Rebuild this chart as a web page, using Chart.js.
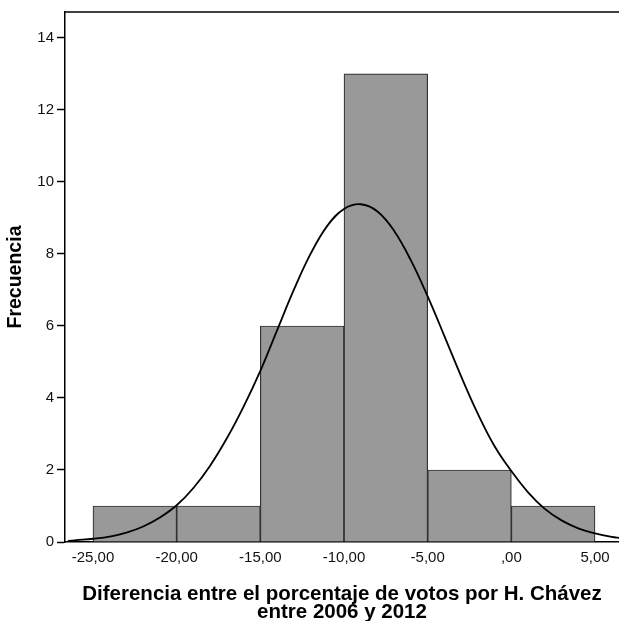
<!DOCTYPE html>
<html lang="es">
  <head>
    <meta charset="UTF-8" />
    <title>Histograma</title>
    <style>
      html, body { margin: 0; padding: 0; background: #fff; }
      canvas { display: block; }
    </style>
  </head>
  <body>
    <canvas id="myChart" width="619" height="621"></canvas>

    <script src="https://cdn.jsdelivr.net/npm/chart.js"></script>
    <script>
      // histogram bins (centre of each 5-wide bin) and counts
      const binCenters = [-22.5, -17.5, -12.5, -7.5, -2.5, 2.5];
      const counts = [1, 1, 6, 13, 2, 1];

      // normal curve
      const curveX = [-26.5, -26, -25, -24, -23, -22, -21, -20, -19, -18, -17, -16, -15, -14, -13, -12, -11, -10, -9,
        -8, -7, -6, -5, -4, -3, -2, -1, 0, 1, 2, 3, 4, 5, 6, 6.5];
      const curveY = [0.03, 0.05, 0.09, 0.15, 0.26, 0.43, 0.68, 1.02, 1.5, 2.12, 2.88, 3.76, 4.75, 5.88, 7.0, 8.0, 8.78, 9.25, 9.38,
        9.18, 8.64, 7.82, 6.82, 5.72, 4.6, 3.56, 2.66, 1.97, 1.38, 0.92, 0.6, 0.38, 0.24, 0.14, 0.11];

      const xTicks = [-25, -20, -15, -10, -5, 0, 5];
      const xTickLabels = ["-25,00", "-20,00", "-15,00", "-10,00", "-5,00", ",00", "5,00"];
      const yTicks = [0, 2, 4, 6, 8, 10, 12, 14];

      const font = "'Liberation Sans', Arial, sans-serif";

      // top frame line of the plot
      const frame = {
        id: "frame",
        afterDraw(chart) {
          const { ctx, chartArea: a } = chart;
          ctx.save();
          ctx.strokeStyle = "#000";
          ctx.lineWidth = 1.5;
          ctx.beginPath();
          ctx.moveTo(a.left, a.top);
          ctx.lineTo(a.right, a.top);
          ctx.stroke();
          ctx.restore();
        },
      };

      new Chart(document.getElementById("myChart"), {
        type: "bar",
        data: {
          datasets: [
            {
              type: "line",
              data: curveX.map((x, i) => ({ x: x, y: curveY[i] })),
              borderColor: "#000",
              borderWidth: 1.8,
              pointRadius: 0,
              tension: 0.4,
              fill: false,
            },
            {
              type: "bar",
              data: binCenters.map((x, i) => ({ x: x, y: counts[i] })),
              backgroundColor: "#999999",
              borderColor: "#333333",
              borderWidth: 1.2,
              barPercentage: 1,
              categoryPercentage: 1,
              grouped: false,
            },
          ],
        },
        options: {
          responsive: false,
          animation: false,
          layout: { padding: { top: 11, right: 0, left: 0, bottom: 0 } },
          plugins: { legend: { display: false }, tooltip: { enabled: false } },
          scales: {
            x: {
              type: "linear",
              offset: false,
              min: -26.673,
              max: 6.434,
              afterBuildTicks: (s) => { s.ticks = xTicks.map((v) => ({ value: v })); },
              afterFit: (s) => { s.height = 79; },
              ticks: {
                callback: (v) => xTickLabels[xTicks.indexOf(v)],
                color: "#111",
                font: { family: font, size: 15 },
                padding: 7,
                maxRotation: 0,
              },
              grid: { drawOnChartArea: false, drawTicks: false, offset: false },
              border: { color: "#000", width: 1.5 },
              title: {
                display: true,
                text: ["Diferencia entre el porcentaje de votos por H. Chávez", "entre 2006 y 2012"],
                color: "#000",
                font: { family: font, size: 20.5, weight: "bold", lineHeight: 0.88 },
                padding: { top: 0, bottom: 0 },
              },
            },
            y: {
              min: 0,
              max: 14.72,
              afterBuildTicks: (s) => { s.ticks = yTicks.map((v) => ({ value: v })); },
              afterFit: (s) => { s.width = 65; },
              ticks: {
                color: "#111",
                font: { family: font, size: 15 },
                padding: 3,
              },
              grid: { drawOnChartArea: false, tickLength: 8, color: "#000", tickWidth: 1.5 },
              border: { color: "#000", width: 1.5 },
              title: {
                display: true,
                text: "Frecuencia",
                color: "#000",
                font: { family: font, size: 19.5, weight: "bold", lineHeight: 1 },
                padding: { top: 6, bottom: 0 },
              },
            },
          },
        },
        plugins: [frame],
      });
    </script>
  </body>
</html>
